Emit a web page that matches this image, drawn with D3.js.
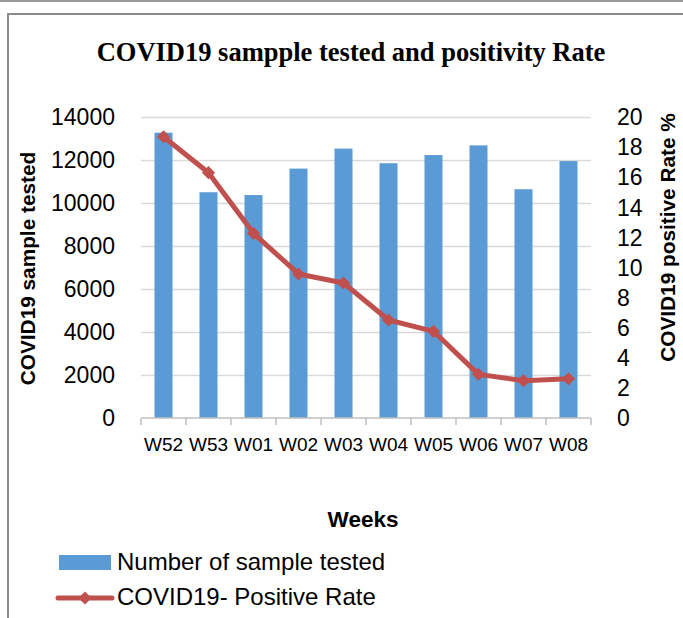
<!DOCTYPE html>
<html>
<head>
<meta charset="utf-8">
<script src="https://cdn.jsdelivr.net/npm/d3@7"></script>
<style>
  html, body { margin: 0; padding: 0; background: #fff; }
  svg { display: block; }
  .sans { font-family: "Liberation Sans", Arial, sans-serif; fill: #000; }
</style>
</head>
<body>
<div id="chart"></div>
<script>

//**************************************************************************
//** Data
//**************************************************************************
var weeks = ["W52","W53","W01","W02","W03","W04","W05","W06","W07","W08"];
var samplesTested = [13270,10500,10370,11600,12530,11850,12230,12680,10640,11950];
var positiveRate = [18.69,16.30,12.27,9.57,8.97,6.51,5.76,2.90,2.48,2.61];
var leftTicks = [0,2000,4000,6000,8000,10000,12000,14000];
var rightTicks = [0,2,4,6,8,10,12,14,16,18,20];

var chartTitle = "COVID19 sampple tested and positivity Rate";
var leftTitle = "COVID19 sample tested";
var rightTitle = "COVID19 positive Rate %";
var xTitle = "Weeks";
var legendLabels = ["Number of sample tested", "COVID19- Positive Rate"];


//**************************************************************************
//** Layout
//**************************************************************************
var width = 683, height = 618;
var plot = {left: 141, right: 591, top: 117, bottom: 418};
var barColor = "#5B9BD5";
var lineColor = "#C0504D";
var gridColor = "#D9D9D9";

var svg = d3.select("#chart").append("svg")
    .attr("width", width)
    .attr("height", height);

//Page line and chart frame
svg.append("line")
    .attr("x1", 0).attr("x2", width)
    .attr("y1", 1).attr("y2", 1)
    .attr("stroke", "#999").attr("stroke-width", 2);

svg.append("rect")
    .attr("x", 8).attr("y", 14)
    .attr("width", 720).attr("height", 700)
    .attr("fill", "none")
    .attr("stroke", "#8c8c8c").attr("stroke-width", 2);

//Title
svg.append("text")
    .attr("x", 351).attr("y", 61)
    .attr("text-anchor", "middle")
    .style("font-family", "'Liberation Serif', 'Times New Roman', serif")
    .style("font-weight", "bold")
    .style("font-size", "26.5px")
    .text(chartTitle);


//**************************************************************************
//** Scales
//**************************************************************************
var x = d3.scaleBand()
    .domain(weeks)
    .range([plot.left, plot.right])
    .paddingInner(0.6)
    .paddingOuter(0.3);

var xCat = d3.scaleBand()
    .domain(weeks)
    .range([plot.left, plot.right]);

var yLeft = d3.scaleLinear()
    .domain([0, 14000])
    .range([plot.bottom, plot.top]);

var yRight = d3.scaleLinear()
    .domain([0, 20])
    .range([plot.bottom, plot.top]);


//**************************************************************************
//** Gridlines
//**************************************************************************
svg.append("g")
    .attr("transform", "translate(" + plot.left + ",0)")
    .call(d3.axisLeft(yLeft)
        .tickValues(leftTicks.filter(function(d){ return d > 0; }))
        .tickSize(-(plot.right - plot.left))
        .tickFormat(""))
    .call(function(g){
        g.select(".domain").remove();
        g.selectAll("line").attr("stroke", gridColor).attr("stroke-width", 1.5);
    });


//**************************************************************************
//** Bars
//**************************************************************************
svg.append("g")
    .selectAll("rect")
    .data(weeks)
    .enter()
    .append("rect")
    .attr("x", function(d){ return x(d); })
    .attr("width", x.bandwidth())
    .attr("y", function(d, i){ return yLeft(samplesTested[i]); })
    .attr("height", function(d, i){ return yLeft(0) - yLeft(samplesTested[i]); })
    .attr("fill", barColor);


//**************************************************************************
//** X axis
//**************************************************************************
var xAxis = svg.append("g")
    .attr("transform", "translate(0," + plot.bottom + ")");

xAxis.append("line")
    .attr("x1", plot.left).attr("x2", plot.right)
    .attr("stroke", "#BFBFBF").attr("stroke-width", 1.5);

xAxis.selectAll(".tick")
    .data(weeks.concat(["end"]))
    .enter()
    .append("line")
    .attr("x1", function(d){ return d === "end" ? plot.right : xCat(d); })
    .attr("x2", function(d){ return d === "end" ? plot.right : xCat(d); })
    .attr("y1", 0).attr("y2", 7)
    .attr("stroke", "#BFBFBF").attr("stroke-width", 1.5);

xAxis.selectAll(".label")
    .data(weeks)
    .enter()
    .append("text")
    .attr("class", "sans")
    .attr("x", function(d){ return x(d) + x.bandwidth()/2; })
    .attr("y", 33)
    .attr("text-anchor", "middle")
    .style("font-size", "19px")
    .text(function(d){ return d; });


//**************************************************************************
//** Y axes
//**************************************************************************
svg.append("g")
    .selectAll("text")
    .data(leftTicks)
    .enter()
    .append("text")
    .attr("class", "sans")
    .attr("x", 115)
    .attr("y", function(d){ return yLeft(d); })
    .attr("dy", "0.36em")
    .attr("text-anchor", "end")
    .style("font-size", "23px")
    .text(function(d){ return d; });

svg.append("g")
    .selectAll("text")
    .data(rightTicks)
    .enter()
    .append("text")
    .attr("class", "sans")
    .attr("x", 617)
    .attr("y", function(d){ return yRight(d); })
    .attr("dy", "0.36em")
    .attr("text-anchor", "start")
    .style("font-size", "23px")
    .text(function(d){ return d; });


//**************************************************************************
//** Line + markers
//**************************************************************************
var cx = function(d){ return x(d) + x.bandwidth()/2; };

svg.append("path")
    .datum(weeks)
    .attr("fill", "none")
    .attr("stroke", lineColor)
    .attr("stroke-width", 5)
    .attr("stroke-linejoin", "round")
    .attr("d", d3.line()
        .x(cx)
        .y(function(d, i){ return yRight(positiveRate[i]); }));

var diamond = d3.symbol().type(d3.symbolDiamond2).size(110);

svg.append("g")
    .selectAll("path")
    .data(weeks)
    .enter()
    .append("path")
    .attr("d", diamond)
    .attr("transform", function(d, i){
        return "translate(" + cx(d) + "," + yRight(positiveRate[i]) + ")";
    })
    .attr("fill", lineColor);


//**************************************************************************
//** Axis titles
//**************************************************************************
svg.append("text")
    .attr("class", "sans")
    .attr("transform", "translate(35,268.5) rotate(-90)")
    .attr("text-anchor", "middle")
    .style("font-weight", "bold")
    .style("font-size", "20.8px")
    .text(leftTitle);

svg.append("text")
    .attr("class", "sans")
    .attr("transform", "translate(675,237.5) rotate(-90)")
    .attr("text-anchor", "middle")
    .style("font-weight", "bold")
    .style("font-size", "20.8px")
    .text(rightTitle);

svg.append("text")
    .attr("class", "sans")
    .attr("x", 363).attr("y", 527)
    .attr("text-anchor", "middle")
    .style("font-weight", "bold")
    .style("font-size", "22.5px")
    .text(xTitle);


//**************************************************************************
//** Legend
//**************************************************************************
var legend = svg.append("g");

legend.append("rect")
    .attr("x", 59).attr("y", 555)
    .attr("width", 52).attr("height", 15)
    .attr("fill", barColor);

legend.append("line")
    .attr("x1", 58).attr("x2", 112)
    .attr("y1", 598).attr("y2", 598)
    .attr("stroke", lineColor)
    .attr("stroke-width", 5)
    .attr("stroke-linecap", "round");

legend.append("path")
    .attr("d", diamond)
    .attr("transform", "translate(85,598)")
    .attr("fill", lineColor);

legend.selectAll("text")
    .data(legendLabels)
    .enter()
    .append("text")
    .attr("class", "sans")
    .attr("x", 117)
    .attr("y", function(d, i){ return i === 0 ? 570 : 605; })
    .style("font-size", "24px")
    .text(function(d){ return d; });

</script>
</body>
</html>
